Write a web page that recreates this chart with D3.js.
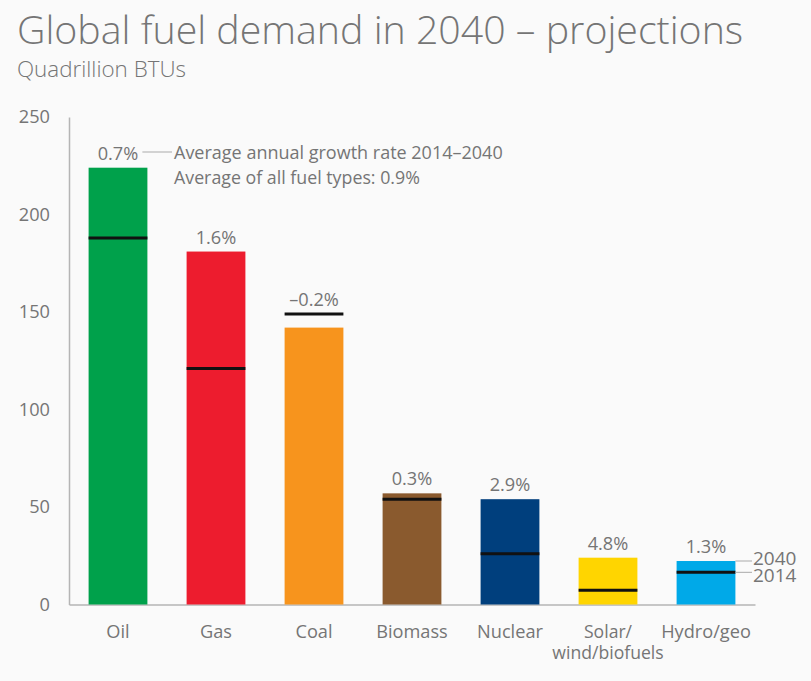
<!DOCTYPE html>
<html>
<head>
<meta charset="utf-8">
<script src="https://cdn.jsdelivr.net/npm/d3@7"></script>
<style>
  body { margin: 0; background: #fafafa; }
  text { font-family: "Open Sans", sans-serif; fill: #757575; }
</style>
</head>
<body>
<script>
var fuels = ["Oil", "Gas", "Coal", "Biomass", "Nuclear", "Solar/wind/biofuels", "Hydro/geo"];
var demand2040 = [224, 181, 142, 57, 54, 24, 22.3];
var demand2014 = [188, 121, 149, 54, 26, 7.3, 16.5];
var growthRates = ["0.7%", "1.6%", "\u20130.2%", "0.3%", "2.9%", "4.8%", "1.3%"];
var barColors = ["#00a14b", "#ed1c2e", "#f7941d", "#8a5a2e", "#003f7d", "#ffd500", "#00a9e8"];
var yTicks = [0, 50, 100, 150, 200, 250];

var width = 811, height = 681;
var labelSize = 18.2;

var svg = d3.select("body").append("svg")
  .attr("width", width)
  .attr("height", height)
  .style("display", "block");

var x = d3.scaleBand().domain(fuels).range([69, 755]).paddingInner(0.4).paddingOuter(0.2);
var y = d3.scaleLinear().domain([0, 250]).range([604.5, 117]);

svg.append("text").attr("x", 17).attr("y", 44).attr("font-size", 39.3).attr("font-weight", 300).text("Global fuel demand in 2040 \u2013 projections");
svg.append("text").attr("x", 17).attr("y", 77).attr("font-size", 22.4).attr("font-weight", 300).text("Quadrillion BTUs");

// axes
var yAxis = svg.append("g").attr("transform", "translate(69,0)")
  .call(d3.axisLeft(y).tickValues(yTicks).tickSize(0).tickPadding(19));
yAxis.select(".domain").attr("stroke", "#b5b5b5").attr("stroke-width", 1.5);
yAxis.selectAll("text").attr("font-size", labelSize).style("font-family", '"Open Sans", sans-serif');

var xAxis = svg.append("g").attr("transform", "translate(0," + y(0) + ")")
  .call(d3.axisBottom(x).tickSize(0).tickFormat(""));
xAxis.select(".domain").attr("stroke", "#b5b5b5").attr("stroke-width", 1.5);

// fuel labels, the long one is split into two text elements
fuels.forEach(function (d) {
  var parts = d === "Solar/wind/biofuels" ? ["Solar/", "wind/biofuels"] : [d];
  parts.forEach(function (p, i) {
    svg.append("text")
      .attr("class", "fuel")
      .attr("text-anchor", "middle")
      .attr("font-size", i || parts[0] === "Solar/" ? 17.6 : labelSize)
      .attr("x", x(d) + x.bandwidth() / 2)
      .attr("y", 638 + i * 21)
      .text(p);
  });
});

svg.selectAll(".bar")
  .data(fuels)
  .enter()
  .append("rect")
  .attr("class", "bar")
  .attr("x", function (d) { return x(d); })
  .attr("width", x.bandwidth())
  .attr("y", function (d, i) { return y(demand2040[i]); })
  .attr("height", function (d, i) { return y(0) - y(demand2040[i]); })
  .attr("fill", function (d, i) { return barColors[i]; });

svg.selectAll(".mark2014")
  .data(fuels)
  .enter()
  .append("line")
  .attr("class", "mark2014")
  .attr("x1", function (d) { return x(d); })
  .attr("x2", function (d) { return x(d) + x.bandwidth(); })
  .attr("y1", function (d, i) { return y(demand2014[i]); })
  .attr("y2", function (d, i) { return y(demand2014[i]); })
  .attr("stroke", "#111")
  .attr("stroke-width", 3);

svg.selectAll(".rate")
  .data(fuels)
  .enter()
  .append("text")
  .attr("class", "rate")
  .attr("text-anchor", "middle")
  .attr("font-size", labelSize)
  .attr("x", function (d) { return x(d) + x.bandwidth() / 2; })
  .attr("y", function (d, i) { return y(Math.max(demand2040[i], demand2014[i])) - 8; })
  .text(function (d, i) { return growthRates[i]; });

// annotation next to the oil bar
var oilRight = x("Oil") + x.bandwidth();
svg.append("line").attr("x1", oilRight - 5).attr("x2", 172).attr("y1", 152).attr("y2", 152).attr("stroke", "#aaa");
svg.append("text").attr("x", 174).attr("y", 159).attr("font-size", 18).text("Average annual growth rate 2014\u20132040");
svg.append("text").attr("x", 174).attr("y", 184).attr("font-size", 17.8).text("Average of all fuel types: 0.9%");

// 2040 / 2014 key next to the last bar
var lastRight = x("Hydro/geo") + x.bandwidth();
var last = fuels.length - 1;
svg.append("line").attr("x1", lastRight).attr("x2", 752).attr("y1", y(demand2040[last])).attr("y2", y(demand2040[last])).attr("stroke", "#aaa");
svg.append("line").attr("x1", lastRight).attr("x2", 752).attr("y1", y(demand2014[last])).attr("y2", y(demand2014[last])).attr("stroke", "#aaa");
svg.append("text").attr("x", 753).attr("y", 565).attr("font-size", 19).text("2040");
svg.append("text").attr("x", 753).attr("y", 582).attr("font-size", 19).text("2014");
</script>
</body>
</html>
